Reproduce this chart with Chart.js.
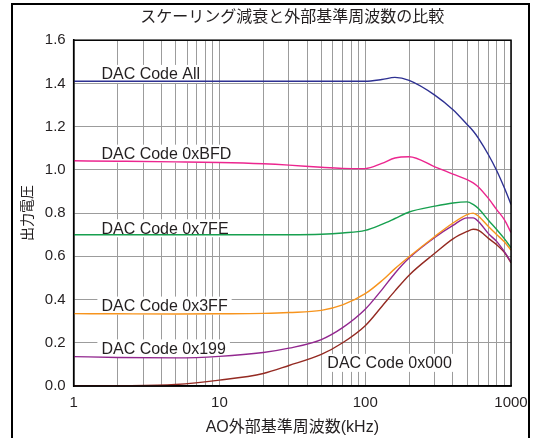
<!DOCTYPE html>
<html lang="ja">
<head>
<meta charset="utf-8">
<title>スケーリング減衰と外部基準周波数の比較</title>
<script src="https://cdn.jsdelivr.net/npm/chart.js@4.4.1/dist/chart.umd.min.js"></script>
<style>
  html,body { margin:0; padding:0; background:#fff; }
  #wrap     { position:relative; width:539px; height:438px; }
</style>
</head>
<body>
<div id="wrap"><canvas id="chart"></canvas></div>
<script>
/* ── Data ────────────────────────────────────────────────────────── */
const FREQS = [1, 2, 5, 10, 20, 30, 50, 70, 100, 130, 160, 200, 300, 400, 500, 550, 600, 700, 800, 900, 1000];

const SERIES_NAMES = ['DAC Code All', 'DAC Code 0xBFD', 'DAC Code 0x7FE', 'DAC Code 0x3FF', 'DAC Code 0x199', 'DAC Code 0x000'];

const CODE_ALL = [1.41, 1.41, 1.41, 1.41, 1.41, 1.41, 1.41, 1.41, 1.41, 1.418, 1.428, 1.414, 1.346, 1.278, 1.21, 1.18, 1.145, 1.07, 0.995, 0.917, 0.84];
const CODE_BFD = [1.042, 1.04, 1.037, 1.034, 1.028, 1.022, 1.012, 1.007, 1.006, 1.03, 1.055, 1.061, 1.014, 0.98, 0.955, 0.94, 0.92, 0.868, 0.815, 0.77, 0.71];
const CODE_7FE = [0.70, 0.70, 0.70, 0.70, 0.70, 0.70, 0.702, 0.708, 0.72, 0.748, 0.775, 0.805, 0.832, 0.847, 0.852, 0.84, 0.82, 0.767, 0.723, 0.682, 0.64];
const CODE_3FF = [0.335, 0.334, 0.333, 0.334, 0.336, 0.34, 0.35, 0.375, 0.427, 0.487, 0.543, 0.598, 0.692, 0.754, 0.793, 0.80, 0.785, 0.738, 0.70, 0.667, 0.629];
const CODE_199 = [0.136, 0.132, 0.13, 0.137, 0.155, 0.175, 0.215, 0.27, 0.355, 0.445, 0.522, 0.592, 0.687, 0.743, 0.778, 0.778, 0.76, 0.705, 0.668, 0.622, 0.575];
const CODE_000 = [0.0, 0.001, 0.007, 0.027, 0.058, 0.095, 0.146, 0.2, 0.279, 0.368, 0.44, 0.513, 0.614, 0.681, 0.715, 0.725, 0.72, 0.683, 0.653, 0.618, 0.57];

const X_MAJOR = [1, 10, 100, 1000];
const X_GRID  = [1,2,3,4,5,6,7,8,9, 10,20,30,40,50,60,70,80,90, 100,200,300,400,500,600,700,800,900, 1000];

/* ── Styles ──────────────────────────────────────────────────────── */
const COLORS   = ['#2e3192', '#ec268f', '#17a04f', '#f7941d', '#92278f', '#942a22'];
const TEXT     = '#231f20';
const GRID     = '#9c9c9c';
const FONT     = '"Liberation Sans", Arial, "Noto Sans CJK JP", sans-serif';

// where each series name sits (kHz, V)
const LABEL_AT = [[1.55, 1.444], [1.55, 1.075], [1.55, 0.730], [1.55, 0.372], [1.55, 0.174], [55, 0.107]];

/* ── Plugins ─────────────────────────────────────────────────────── */
const seriesLabels = {
  id: 'seriesLabels',
  beforeDatasetsDraw(chart) {
    const { ctx, scales: { x, y } } = chart;
    ctx.save();
    ctx.font = '16px ' + FONT;
    ctx.textBaseline = 'middle';
    SERIES_NAMES.forEach((name, i) => {
      const px = x.getPixelForValue(LABEL_AT[i][0]);
      const py = y.getPixelForValue(LABEL_AT[i][1]);
      const w = ctx.measureText(name).width;
      ctx.fillStyle = '#fff';
      ctx.fillRect(px - 4, py - 9, w + 8, 18);
      ctx.fillStyle = TEXT;
      ctx.fillText(name, px, py + 1);
    });
    ctx.restore();
  }
};

// plot box on all four sides, plus the page frame (open at the bottom)
const frames = {
  id: 'frames',
  afterDraw(chart) {
    const { ctx, chartArea: a } = chart;
    ctx.save();
    ctx.strokeStyle = '#000';
    ctx.lineWidth = 1.5;
    ctx.strokeRect(a.left, a.top, a.right - a.left, a.bottom - a.top);
    ctx.lineWidth = 2;
    ctx.beginPath();
    ctx.moveTo(12, 440); ctx.lineTo(12, 4); ctx.lineTo(529, 4); ctx.lineTo(529, 440);
    ctx.stroke();
    ctx.restore();
  }
};

/* ── Chart ───────────────────────────────────────────────────────── */
Chart.defaults.font.family = FONT;
Chart.defaults.color = TEXT;

new Chart(document.getElementById('chart'), {
  type: 'line',
  data: {
    labels: FREQS,
    datasets: [CODE_ALL, CODE_BFD, CODE_7FE, CODE_3FF, CODE_199, CODE_000].map((vals, i) => ({
      label: SERIES_NAMES[i],
      data: vals.map((v, j) => ({ x: FREQS[j], y: v })),
      borderColor: COLORS[i],
      borderWidth: 1.4,
      pointRadius: 0,
      cubicInterpolationMode: 'monotone',
      fill: false
    }))
  },
  options: {
    responsive: true, maintainAspectRatio: false, animation: false,
    layout: { padding: { top: 8, left: 16, right: 28, bottom: 2 } },
    scales: {
      x: {
        type: 'logarithmic', min: 1, max: 1000,
        afterBuildTicks: ax => { ax.ticks = X_GRID.map(v => ({ value: v })); },
        ticks: { autoSkip: false, maxRotation: 0, padding: 8, font: { size: 15 },
                 callback: v => X_MAJOR.includes(v) ? String(v) : '' },
        grid: { color: GRID, lineWidth: 1, drawTicks: false },
        border: { color: '#000', width: 1.5 },
        title: { display: true, text: 'AO外部基準周波数(kHz)', font: { size: 16, lineHeight: 1 }, padding: { top: 0, bottom: 0 } }
      },
      y: {
        min: 0, max: 1.6,
        ticks: { stepSize: 0.2, padding: 8, font: { size: 15 }, callback: v => v.toFixed(1) },
        grid: { color: GRID, lineWidth: 1, drawTicks: false },
        border: { color: '#000', width: 1.5 },
        title: { display: true, text: '出力電圧', font: { size: 14 }, padding: { top: 4, bottom: 0 } }
      }
    },
    plugins: {
      legend: { display: false },
      tooltip: { enabled: false },
      title: { display: true, fullSize: false, text: 'スケーリング減衰と外部基準周波数の比較',
               font: { size: 16, weight: 'normal' }, padding: { top: 0, bottom: 13 } }
    }
  },
  plugins: [seriesLabels, frames]
});
</script>
</body>
</html>
